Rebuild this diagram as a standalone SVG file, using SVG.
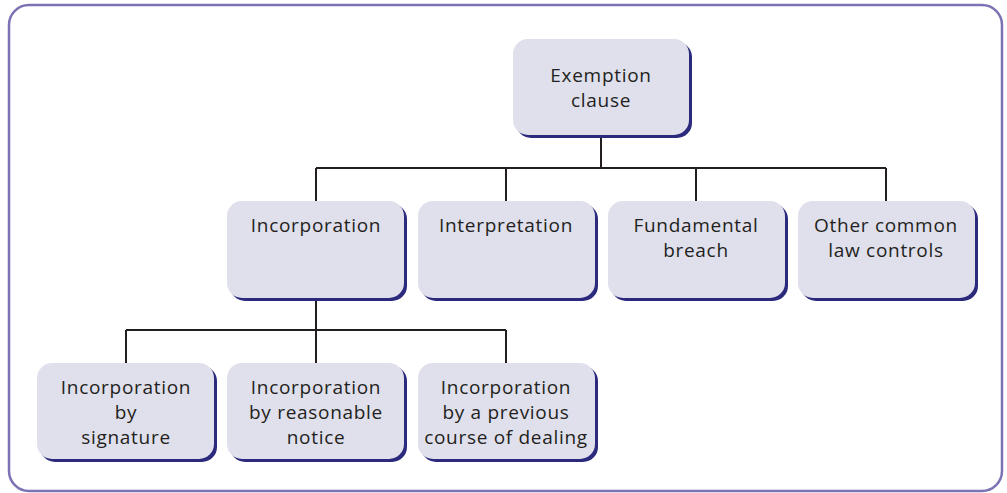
<svg xmlns="http://www.w3.org/2000/svg" width="1007" height="493" viewBox="0 0 1007 493">
<style>
.frame{fill:#ffffff;stroke:#7d72b3;stroke-width:2.5}
.shadow{fill:#2b2a7c}
.box{fill:#e0dfec}
.t{font-family:"Open Sans","DejaVu Sans",sans-serif;font-size:19px;fill:#231f20;text-anchor:middle;letter-spacing:0.7px}
.c{fill:none;stroke:#231f20;stroke-width:2}
</style>
<rect class="frame" x="9" y="5" width="993" height="486" rx="20"/>
<g id="connectors">
<path class="c" d="M601 137V168M316 168H886M316 168V201M506 168V201M696 168V201M886 168V201"/>
<path class="c" d="M316 300V330M126 330H506M126 330V363M316 330V363M506 330V363"/>
</g>
<g id="n-exemption">
<rect class="shadow" x="516" y="42" width="176" height="96" rx="15"/>
<rect class="box" x="513" y="39" width="176" height="96" rx="15"/>
<text class="t" x="601" y="82">Exemption</text>
<text class="t" x="601" y="107">clause</text>
</g>
<g id="n-incorporation">
<rect class="shadow" x="230" y="204" width="177" height="97" rx="15"/>
<rect class="box" x="227" y="201" width="177" height="97" rx="15"/>
<text class="t" x="316" y="232">Incorporation</text>
</g>
<g id="n-interpretation">
<rect class="shadow" x="421" y="204" width="177" height="97" rx="15"/>
<rect class="box" x="418" y="201" width="177" height="97" rx="15"/>
<text class="t" x="506" y="232">Interpretation</text>
</g>
<g id="n-fundamental">
<rect class="shadow" x="611" y="204" width="177" height="97" rx="15"/>
<rect class="box" x="608" y="201" width="177" height="97" rx="15"/>
<text class="t" x="696" y="232">Fundamental</text>
<text class="t" x="696" y="257">breach</text>
</g>
<g id="n-other">
<rect class="shadow" x="801" y="204" width="177" height="97" rx="15"/>
<rect class="box" x="798" y="201" width="177" height="97" rx="15"/>
<text class="t" x="886" y="232">Other common</text>
<text class="t" x="886" y="257">law controls</text>
</g>
<g id="n-signature">
<rect class="shadow" x="40" y="366" width="177" height="96" rx="15"/>
<rect class="box" x="37" y="363" width="177" height="96" rx="15"/>
<text class="t" x="126" y="394">Incorporation</text>
<text class="t" x="126" y="419">by</text>
<text class="t" x="126" y="444">signature</text>
</g>
<g id="n-notice">
<rect class="shadow" x="230" y="366" width="177" height="96" rx="15"/>
<rect class="box" x="227" y="363" width="177" height="96" rx="15"/>
<text class="t" x="316" y="394">Incorporation</text>
<text class="t" x="316" y="419">by reasonable</text>
<text class="t" x="316" y="444">notice</text>
</g>
<g id="n-dealing">
<rect class="shadow" x="421" y="366" width="177" height="96" rx="15"/>
<rect class="box" x="418" y="363" width="177" height="96" rx="15"/>
<text class="t" x="506" y="394">Incorporation</text>
<text class="t" x="506" y="419">by a previous</text>
<text class="t" x="506" y="444">course of dealing</text>
</g>
</svg>
